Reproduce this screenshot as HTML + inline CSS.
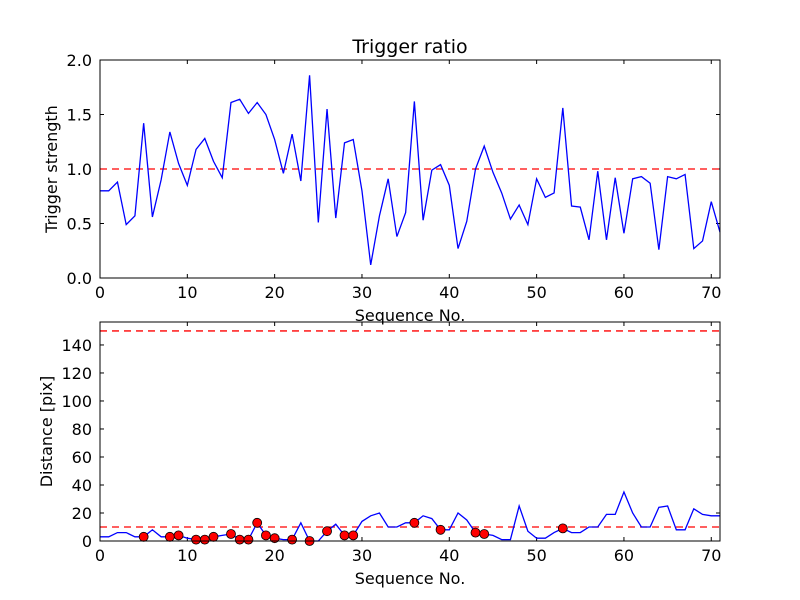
<!DOCTYPE html>
<html><head><meta charset="utf-8"><style>
body{margin:0;background:#fff;}
svg{display:block;font-family:"DejaVu Sans","Liberation Sans",sans-serif;}
</style></head><body>
<svg id="c" width="800" height="600"></svg>
<script>
const seq = Array.from({length:72},(_,i)=>i);
const strength = [0.8,0.8,0.88,0.49,0.57,1.42,0.56,0.9,1.34,1.05,0.85,1.18,1.28,1.07,0.92,1.61,1.64,1.51,1.61,1.5,1.27,0.96,1.32,0.89,1.86,0.51,1.55,0.55,1.24,1.27,0.8,0.12,0.57,0.91,0.38,0.6,1.62,0.53,0.99,1.04,0.85,0.27,0.52,1.0,1.21,0.97,0.78,0.54,0.67,0.49,0.91,0.74,0.78,1.56,0.66,0.65,0.35,0.98,0.35,0.92,0.41,0.91,0.93,0.87,0.26,0.93,0.91,0.95,0.27,0.34,0.7,0.42];
const distance = [3,3,6,6,3,3,8,3,3,4,2,1,1,3,4,5,1,1,13,4,2,1,1,13,0,0,7,12,4,4,14,18,20,10,10,13,13,18,16,8,8,20,15,6,5,4,1,1,25,7,2,2,6,9,6,6,10,10,19,19,35,20,10,10,24,25,8,8,23,19,18,18];
const markIdx = [5,8,9,11,12,13,15,16,17,18,19,20,22,24,26,28,29,36,39,43,44,53];
const topTicksY = [0.0,0.5,1.0,1.5,2.0];
const botTicksY = [0,20,40,60,80,100,120,140];
const ticksX = [0,10,20,30,40,50,60,70];
const topThreshold = 1.0;
const botThresholds = [10,150];

const NS="http://www.w3.org/2000/svg";
const svg=document.getElementById('c');
function el(t,a,p){const e=document.createElementNS(NS,t);for(const k in a)e.setAttribute(k,a[k]);(p||svg).appendChild(e);return e;}
const X0=100,X1=720;
const sx=v=>X0+(v-0)/(71-0)*(X1-X0);

function panel(name,yTop,yBot,ymin,ymax,yticks,fmt,ylabel){
  const g=el('g',{});
  
  
  const sy=v=>yBot-(v-ymin)/(ymax-ymin)*(yBot-yTop);
  ticksX.forEach(t=>{
    const x=sx(t);
    el('line',{x1:x,x2:x,y1:yBot,y2:yBot-4,stroke:'#000'},g);
    el('line',{x1:x,x2:x,y1:yTop,y2:yTop+4,stroke:'#000'},g);
    const tx=el('text',{x:x,y:yBot+20,'text-anchor':'middle','font-size':16},g);
    tx.textContent=t;
    
    
  });
  yticks.forEach(t=>{
    const y=sy(t);
    el('line',{x1:X0,x2:X0+4,y1:y,y2:y,stroke:'#000'},g);
    el('line',{x1:X1,x2:X1-4,y1:y,y2:y,stroke:'#000'},g);
    const tx=el('text',{x:X0-8,y:y+6,'text-anchor':'end','font-size':16},g);
    tx.textContent=fmt(t);
    
    
  });
  const xl=el('text',{x:(X0+X1)/2,y:yBot+43,'text-anchor':'middle','font-size':16},g);
  xl.textContent='Sequence No.';
  
  
  const yl=el('text',{x:0,y:0,'text-anchor':'middle','font-size':16,transform:`translate(${name==='top-panel'?57:52},${(yTop+yBot)/2}) rotate(-90)`},g);
  yl.textContent=ylabel;
  
  
  return {g,sy};
}

const T=panel('top-panel',60,278,0,2,topTicksY,v=>v.toFixed(1),'Trigger strength');
const th=el('line',{x1:X0,x2:X1,y1:T.sy(topThreshold),y2:T.sy(topThreshold),stroke:'red','stroke-width':1.3,'stroke-dasharray':'7 5'},T.g);


const p1=el('polyline',{points:seq.map((s,i)=>sx(s)+','+T.sy(strength[i])).join(' '),fill:'none',stroke:'blue','stroke-width':1.3},T.g);


el('rect',{x:X0,y:60,width:X1-X0,height:218,fill:'none',stroke:'#000'},T.g);
const title=el('text',{x:410,y:53,'text-anchor':'middle','font-size':19},T.g);
title.textContent='Trigger ratio';



const B=panel('bottom-panel',322,541,0,156.4,botTicksY,v=>v,'Distance [pix]');
botThresholds.forEach(v=>{
  const l=el('line',{x1:X0,x2:X1,y1:B.sy(v),y2:B.sy(v),stroke:'red','stroke-width':1.3,'stroke-dasharray':'7 5'},B.g);
  
  
});
const p2=el('polyline',{points:seq.map((s,i)=>sx(s)+','+B.sy(distance[i])).join(' '),fill:'none',stroke:'blue','stroke-width':1.3},B.g);


markIdx.forEach(i=>{
  const c=el('circle',{cx:sx(seq[i]),cy:B.sy(distance[i]),r:4.5,fill:'red',stroke:'#000','stroke-width':0.8},B.g);
  
  
});
el('rect',{x:X0,y:322,width:X1-X0,height:219,fill:'none',stroke:'#000'},B.g);
</script>
</body></html>
